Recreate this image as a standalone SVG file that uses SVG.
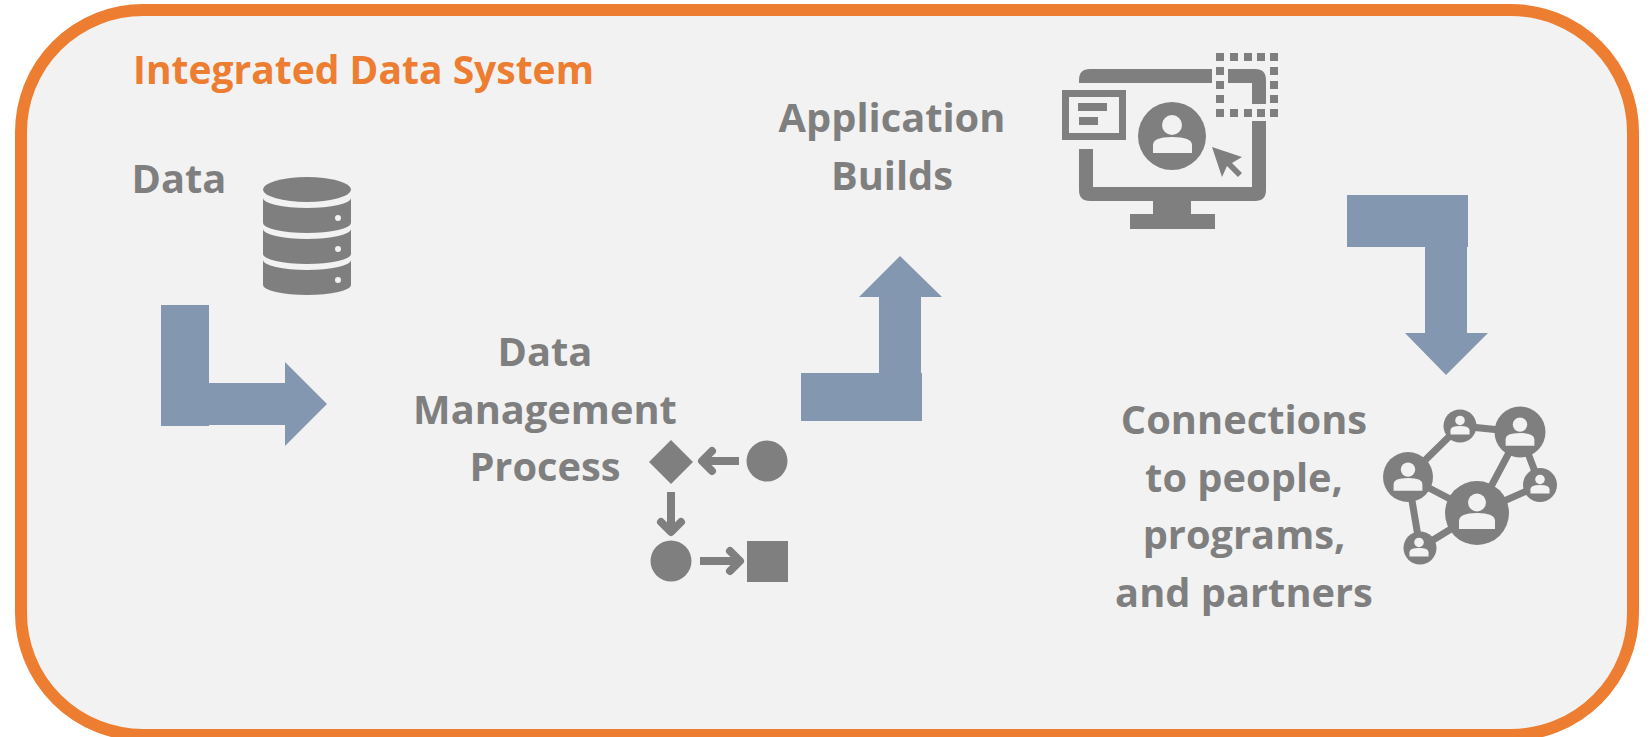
<svg xmlns="http://www.w3.org/2000/svg" width="1652" height="737" viewBox="0 0 1652 737">
<style>
.t{font-family:"Open Sans","Liberation Sans",sans-serif;font-weight:700;font-size:39.800px;fill:#7f7f7f;text-anchor:middle}
.g{fill:#7f7f7f}
.b{fill:#8497b0}
.bg{fill:#f2f2f2}
.l{stroke:#7f7f7f;stroke-width:8;fill:none}
.a{stroke:#7f7f7f;stroke-width:8;fill:none;stroke-linecap:round;stroke-linejoin:round}
</style>
<defs>
<g id="person"><circle cx="0" cy="-10.500" r="9"/><path d="M-18 16V8Q-18 0 0 0Q18 0 18 8V16Z"/></g>
<rect id="dot" width="8" height="8" fill="#7f7f7f"/>
</defs>
<rect id="frame" x="21" y="10" width="1612" height="725" rx="122" fill="#f2f2f2" stroke="#ed7d31" stroke-width="12"/>
<text id="title" x="133" y="84" style="font-family:'Open Sans',sans-serif;font-weight:700;font-size:39px;fill:#ed7d31">Integrated Data System</text>
<g id="connectors">
<path class="b" d="M161 305H209V383H285V362L327 404L285 446V425H209V426H161Z"/>
<path class="b" d="M801 421V373H879V297H859L900 256L942 297H921V373H922V421Z"/>
<path class="b" d="M1347 195H1468V247H1467V333H1488L1446 375L1405 333H1425V247H1347Z"/>
</g>
<g id="data"><text class="t" x="179" y="193">Data</text>
<g>
<ellipse class="g" cx="307" cy="189.500" rx="44" ry="12.500"/>
<path class="g" d="M263 198A44 10 0 0 0 351 198V223A44 10 0 0 1 263 223Z"/>
<path class="g" d="M263 229A44 10 0 0 0 351 229V254A44 10 0 0 1 263 254Z"/>
<path class="g" d="M263 260A44 10 0 0 0 351 260V285A44 10 0 0 1 263 285Z"/>
<circle class="bg" cx="338" cy="218" r="3"/><circle class="bg" cx="338" cy="249" r="3"/><circle class="bg" cx="338" cy="280" r="3"/>
</g></g>
<g id="process"><text class="t" x="545" y="366">Data</text><text class="t" x="545" y="424">Management</text><text class="t" x="545" y="481">Process</text>
<path class="g" d="M671 440L693 462L671 484L649 462Z"/>
<circle class="g" cx="767" cy="461" r="20.500"/>
<circle class="g" cx="671" cy="561" r="20.500"/>
<rect class="g" x="747" y="541" width="41" height="41"/>
<path class="l" d="M739 461H702"/><path class="a" d="M712 451L702 461L712 471"/>
<path class="l" d="M671 492V532"/><path class="a" d="M661 522L671 532L681 522"/>
<path class="l" d="M700 561H740"/><path class="a" d="M730 551L740 561L730 571"/>
</g>
<g id="apps"><text class="t" x="892" y="132">Application</text><text class="t" x="892" y="190">Builds</text>
<path class="g" d="M1079 83V80Q1079 69 1090 69H1212V83Z"/>
<path class="g" d="M1228 69H1255Q1266 69 1266 80V104H1252V83H1228Z"/>
<path class="g" d="M1252 121H1266V190Q1266 201 1255 201H1090Q1079 201 1079 190V149H1093V187H1252Z"/>
<rect class="g" x="1153" y="200" width="38" height="15"/>
<rect class="g" x="1130" y="214" width="85" height="15"/>
<rect x="1065.500" y="93.500" width="57" height="43" fill="#f2f2f2" stroke="#7f7f7f" stroke-width="7"/>
<rect class="g" x="1078" y="103" width="29" height="8"/><rect class="g" x="1079" y="117" width="19" height="8"/>
<circle class="g" cx="1172" cy="136" r="34"/>
<circle class="bg" cx="1172" cy="125" r="10"/><path class="bg" d="M1153 153V145Q1153 137 1172 137Q1192 137 1192 145V153Z"/>
<path class="g" d="M1212 147L1242 157L1232 163L1242 173L1238 177L1227 166L1222 177Z"/>
<use href="#dot" x="1216" y="53"/><use href="#dot" x="1230" y="53"/><use href="#dot" x="1244" y="53"/><use href="#dot" x="1257" y="53"/><use href="#dot" x="1270" y="53"/>
<use href="#dot" x="1216" y="67"/><use href="#dot" x="1270" y="67"/>
<use href="#dot" x="1216" y="81"/><use href="#dot" x="1270" y="81"/>
<use href="#dot" x="1216" y="95"/><use href="#dot" x="1270" y="95"/>
<use href="#dot" x="1216" y="109"/><use href="#dot" x="1230" y="109"/><use href="#dot" x="1244" y="109"/><use href="#dot" x="1257" y="109"/><use href="#dot" x="1270" y="109"/>
</g>
<g id="connections"><text class="t" x="1244" y="434">Connections</text><text class="t" x="1244" y="492">to people,</text><text class="t" x="1244" y="549">programs,</text><text class="t" x="1244" y="607">and partners</text>
<path d="M1408 477L1460 426L1520 432L1477 513M1520 432L1540 485L1477 513L1408 477L1420 548L1477 513" fill="none" stroke="#7f7f7f" stroke-width="7"/>
<circle class="g" cx="1408" cy="477" r="25"/><circle class="g" cx="1460" cy="426" r="16.500"/><circle class="g" cx="1520" cy="432" r="25.500"/><circle class="g" cx="1540" cy="485" r="17"/><circle class="g" cx="1477" cy="513" r="32"/><circle class="g" cx="1420" cy="548" r="16.500"/>
<g class="bg">
<use href="#person" transform="translate(1408,478)scale(.8)"/><use href="#person" transform="translate(1460,426)scale(.53)"/><use href="#person" transform="translate(1520,433)scale(.8)"/><use href="#person" transform="translate(1540,485)scale(.53)"/><use href="#person" transform="translate(1477,513)"/><use href="#person" transform="translate(1419,548)scale(.53)"/>
</g></g>
</svg>
